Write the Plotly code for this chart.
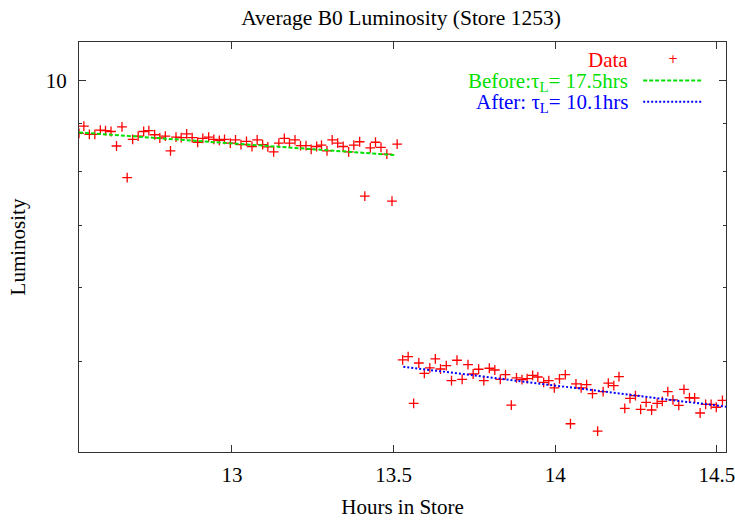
import plotly.graph_objects as go

# Before the step (hours, luminosity)
t_before = [12.527, 12.542, 12.559, 12.576, 12.593, 12.609, 12.626, 12.643, 12.660, 12.676,
            12.693, 12.710, 12.727, 12.743, 12.761, 12.777, 12.794, 12.810, 12.827, 12.843,
            12.860, 12.877, 12.894, 12.910, 12.928, 12.944, 12.961, 12.977, 12.995, 13.011,
            13.028, 13.045, 13.062, 13.078, 13.095, 13.111, 13.129, 13.145, 13.162, 13.178,
            13.195, 13.212, 13.229, 13.245, 13.262, 13.277, 13.294, 13.310, 13.327, 13.344,
            13.361, 13.377, 13.395, 13.411, 13.428, 13.444, 13.461, 13.479, 13.495, 13.511]
lum_before = [8.78, 8.94, 8.76, 8.76, 8.85, 8.84, 8.82, 8.51, 8.92, 7.87,
              8.65, 8.72, 8.82, 8.84, 8.75, 8.68, 8.72, 8.41, 8.70, 8.69,
              8.77, 8.69, 8.59, 8.67, 8.70, 8.65, 8.63, 8.65, 8.57, 8.64,
              8.54, 8.61, 8.50, 8.64, 8.54, 8.49, 8.39, 8.57, 8.67, 8.57,
              8.64, 8.52, 8.52, 8.44, 8.50, 8.53, 8.41, 8.64, 8.57, 8.50,
              8.39, 8.53, 8.60, 7.52, 8.47, 8.59, 8.48, 8.34, 7.43, 8.55]

# After the step
t_after = [13.528, 13.545, 13.562, 13.578, 13.595, 13.612, 13.629, 13.645, 13.663, 13.679,
           13.696, 13.712, 13.730, 13.746, 13.763, 13.779, 13.796, 13.813, 13.830, 13.846,
           13.864, 13.880, 13.897, 13.913, 13.930, 13.946, 13.964, 13.980, 13.997, 14.013,
           14.031, 14.047, 14.064, 14.080, 14.097, 14.115, 14.131, 14.148, 14.164, 14.181,
           14.197, 14.215, 14.231, 14.248, 14.264, 14.281, 14.298, 14.315, 14.331, 14.348,
           14.364, 14.382, 14.398, 14.415, 14.431, 14.448, 14.465, 14.482, 14.498, 14.517]
lum_after = [5.020, 5.061, 4.510, 4.982, 4.857, 4.922, 5.032, 4.909, 4.950, 4.770,
             5.016, 4.785, 4.962, 4.849, 4.906, 4.770, 4.918, 4.897, 4.785, 4.841,
             4.491, 4.802, 4.782, 4.794, 4.833, 4.813, 4.750, 4.770, 4.685, 4.790,
             4.841, 4.289, 4.731, 4.685, 4.723, 4.619, 4.212, 4.642, 4.742, 4.711,
             4.817, 4.455, 4.566, 4.596, 4.444, 4.522, 4.437, 4.510, 4.533, 4.642,
             4.548, 4.488, 4.668, 4.573, 4.570, 4.404, 4.499, 4.499, 4.467, 4.544]

# exponential fits (straight on a log axis), end points
fit_before_t = [12.527, 13.507]
fit_before_l = [8.80, 8.32]
fit_after_t = [13.530, 14.528]
fit_after_l = [4.937, 4.473]

x_ticks = [13, 13.5, 14, 14.5]
y_major = [10]
y_minor = [5, 6, 7, 8, 9]

serif = 'Liberation Serif'
red = '#ff0000'
green = '#00e000'
blue = '#0000ff'

fig = go.Figure()
fig.add_trace(go.Scatter(x=t_before + t_after, y=lum_before + lum_after, mode='markers',
                         marker=dict(symbol='cross-thin', size=7, line=dict(color=red, width=1.3)),
                         name='Data'))
fig.add_trace(go.Scatter(x=fit_before_t, y=fit_before_l, mode='lines',
                         line=dict(color=green, width=2, dash='4px,2px'), name='Before'))
fig.add_trace(go.Scatter(x=fit_after_t, y=fit_after_l, mode='lines',
                         line=dict(color=blue, width=2, dash='2px,2px'), name='After'))

# gnuplot style key: text right aligned, sample to the right
key = [('Data', red, 0.955), ('Before:τ<sub>L</sub>= 17.5hrs', green, 0.902),
       ('After: τ<sub>L</sub>= 10.1hrs', blue, 0.851)]
for txt, col, yy in key:
    fig.add_annotation(x=0.852, y=yy, xref='paper', yref='paper', text=txt, showarrow=False,
                       xanchor='right', yanchor='middle', font=dict(family=serif, size=21, color=col))
fig.add_annotation(x=0.918, y=0.958, xref='paper', yref='paper', text='+', showarrow=False,
                   xanchor='center', yanchor='middle',
                   font=dict(family='DejaVu Sans', size=12, color=red))
fig.add_shape(type='line', xref='paper', yref='paper', x0=0.872, x1=0.962, y0=0.906, y1=0.906,
              line=dict(color=green, width=2, dash='4px,2px'))
fig.add_shape(type='line', xref='paper', yref='paper', x0=0.872, x1=0.962, y0=0.854, y1=0.854,
              line=dict(color=blue, width=2, dash='2px,2px'))

fig.update_xaxes(range=[12.527, 14.528], tickvals=x_ticks, ticktext=['13', '13.5', '14', '14.5'],
                 ticks='inside', ticklen=7, tickcolor='#333', showline=True, linecolor='#333',
                 linewidth=1, mirror='ticks', showgrid=False, zeroline=False, automargin=False,
                 ticklabelstandoff=4, ticklabeloverflow='allow',
                 title=dict(text='Hours in Store', standoff=13, font=dict(family=serif, size=21)),
                 tickfont=dict(family=serif, size=21))
fig.update_yaxes(type='log', range=[0.60206, 1.04139], tickvals=y_major, ticktext=['10'],
                 ticks='inside', ticklen=7, tickcolor='#333', showline=True, linecolor='#333',
                 linewidth=1, mirror='ticks', showgrid=False, zeroline=False, automargin=False,
                 ticklabelstandoff=7,
                 minor=dict(tickvals=y_minor, ticks='inside', ticklen=3, tickcolor='#333', showgrid=False),
                 title=dict(text='Luminosity', standoff=14, font=dict(family=serif, size=21)),
                 tickfont=dict(family=serif, size=21))

fig.update_layout(
    width=735, height=521,
    margin=dict(l=79, r=9, t=42, b=69),
    plot_bgcolor='white', paper_bgcolor='white',
    showlegend=False,
    font=dict(family=serif, size=21, color='black'),
    title=dict(text='Average B0 Luminosity (Store 1253)', x=0.5456, xanchor='center',
               y=0.9655, yanchor='middle', font=dict(family=serif, size=21.5)),
)

# drop the default 8px body margin so the figure fills the window exactly
fig.write_html("out.html", config={'displayModeBar': False},
               post_script="document.body.style.margin='0';")
